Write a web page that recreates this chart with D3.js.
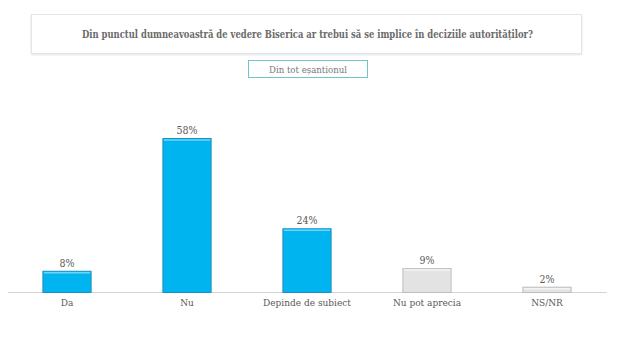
<!DOCTYPE html>
<html>
<head>
<meta charset="utf-8">
<script src="https://cdn.jsdelivr.net/npm/d3@7"></script>
<style>
  html, body { margin: 0; padding: 0; background: #ffffff; }
  svg { display: block; }
  text { font-family: "DejaVu Serif", serif; font-stretch: condensed; }
</style>
</head>
<body>
<svg id="chart" width="620" height="347"></svg>
<script>
// Survey answers and their shares (percent)
const categories = ["Da", "Nu", "Depinde de subiect", "Nu pot aprecia", "NS/NR"];
const values = [8, 58, 24, 9, 2];
const highlighted = [true, true, true, false, false];

const titleText = "Din punctul dumneavoastră de vedere Biserica ar trebui să se implice în deciziile autorităților?";
const subtitleText = "Din tot eșantionul";

const svg = d3.select("#chart");

const defs = svg.append("defs");
const shadow = defs.append("filter").attr("id", "soft").attr("x", "-5%").attr("y", "-20%").attr("width", "110%").attr("height", "160%");
shadow.append("feDropShadow").attr("dx", 0).attr("dy", 1).attr("stdDeviation", 1.2).attr("flood-color", "#9aa4b4").attr("flood-opacity", 0.3);

// Question box
svg.append("rect")
  .attr("x", 31.5).attr("y", 14.5).attr("width", 550).attr("height", 39)
  .attr("fill", "#ffffff").attr("stroke", "#e1e5ec").attr("stroke-width", 1)
  .attr("filter", "url(#soft)");
svg.append("text")
  .attr("x", 307.5).attr("y", 38)
  .attr("text-anchor", "middle")
  .attr("font-size", 10.5).attr("font-weight", "bold").attr("fill", "#6b6b6b")
  .attr("textLength", 451).attr("lengthAdjust", "spacingAndGlyphs")
  .text(titleText);

// Sample box
svg.append("rect")
  .attr("x", 248.5).attr("y", 60.5).attr("width", 119).attr("height", 17)
  .attr("fill", "#ffffff").attr("stroke", "#74c2cb").attr("stroke-width", 1);
svg.append("text")
  .attr("x", 308).attr("y", 73)
  .attr("text-anchor", "middle")
  .attr("font-size", 10).attr("fill", "#777777")
  .attr("textLength", 78).attr("lengthAdjust", "spacingAndGlyphs")
  .text(subtitleText);

// Scales
const baseline = 292;
const x = d3.scaleBand().domain(categories).range([7, 607]).paddingInner(0.59).paddingOuter(0.295);
const y = d3.scaleLinear().domain([0, 58]).range([baseline, 138]);

// Baseline
svg.append("line")
  .attr("x1", 8).attr("x2", 607).attr("y1", baseline + 0.5).attr("y2", baseline + 0.5)
  .attr("stroke", "#d4d4d4").attr("stroke-width", 1);

const data = categories.map((c, i) => ({ c, v: values[i], hi: highlighted[i] }));

const bars = svg.append("g").selectAll("g.bar").data(data).join("g").attr("class", "bar");

bars.append("rect")
  .attr("x", d => x(d.c) + 0.5)
  .attr("y", d => y(d.v) + 0.5)
  .attr("width", x.bandwidth() - 1)
  .attr("height", d => baseline - y(d.v))
  .attr("fill", d => d.hi ? "#00b4f0" : "#e3e3e3")
  .attr("stroke", d => d.hi ? "#1c8fc4" : "#bdbdbd")
  .attr("stroke-width", 1);

// Light top rim of each bar
bars.append("line")
  .attr("x1", d => x(d.c) + 1.5)
  .attr("x2", d => x(d.c) + x.bandwidth() - 1.5)
  .attr("y1", d => y(d.v) + 2)
  .attr("y2", d => y(d.v) + 2)
  .attr("stroke", d => d.hi ? "#6fd6fb" : "#f4f4f4")
  .attr("stroke-width", 1.5);

// Value labels
bars.append("text")
  .attr("x", d => x(d.c) + x.bandwidth() / 2)
  .attr("y", d => y(d.v) - 4)
  .attr("text-anchor", "middle")
  .attr("font-size", 10.5).attr("fill", "#595959")
  .text(d => d.v + "%");

// Category labels
const xAxis = svg.append("g").attr("transform", `translate(0,${baseline})`)
  .call(d3.axisBottom(x).tickSize(0).tickPadding(7));
xAxis.select(".domain").remove();
xAxis.selectAll("text")
  .attr("font-size", 10).attr("fill", "#595959")
  .attr("font-family", "DejaVu Serif, serif")
  .style("font-stretch", "condensed");
</script>
</body>
</html>
